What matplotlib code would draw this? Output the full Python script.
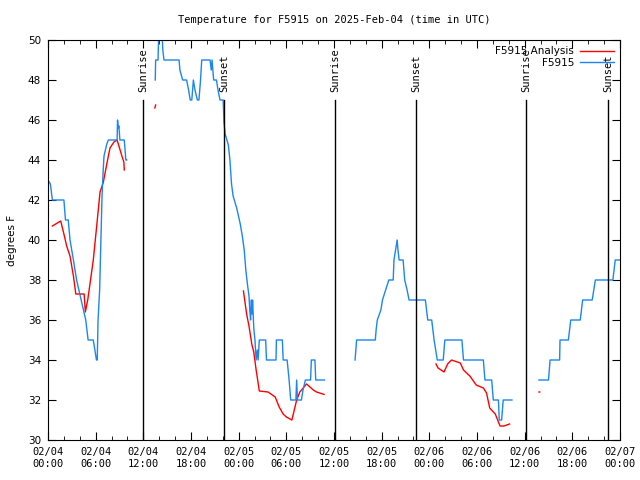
import matplotlib
matplotlib.use("Agg")
import matplotlib.pyplot as plt
import numpy as np

nan = np.nan

# hours since 2025-02-04 00:00 UTC
BLUE_HOURS = [0.0, 0.3, 0.55, 2.0, 2.2, 2.55, 2.77, 3.2, 3.6, 4.0, 4.45, 4.75, 5.05, 5.7, 5.9, 6.1, 6.2,
              6.3, 6.5, 6.63, 6.8, 6.95, 7.05, 7.4, 7.6, 8.7, 8.75, 8.85, 8.92, 9.05, 9.6, 9.8, 9.9, nan,
              13.5, 13.55, 13.85, 13.95, 14.35, 14.45, 14.6, 16.5, 16.6, 16.95, 17.45, 17.7, 17.9, 18.1,
              18.3, 18.5, 18.8, 19.0, 19.2, 19.35, 20.4, 20.55, 20.65, 20.85, 21.2, 21.4, 21.65, 22.05,
              22.15, 22.3, 22.7, 22.9, 23.1, 23.3, 23.75, 24.2, 24.46, 24.7, 24.9, 25.1, 25.3, 25.4, 25.5,
              25.6, 25.7, 25.75, 25.9, 26.05, 26.2, 26.35, 26.45, 26.6, 27.4, 27.5, 28.7, 28.75, 29.5,
              29.6, 30.1, 30.35, 30.55, 31.2, 31.3, 31.4, 31.9, 32.1, 32.4, 33.05, 33.15, 33.6, 33.7,
              34.8, nan,
              38.65, 38.85, 41.2, 41.3, 41.45, 41.9, 42.1, 42.5, 42.9, 43.45, 43.55, 43.75, 43.95, 44.05,
              44.2, 44.7, 44.9, 45.2, 45.45, 47.5, 47.65, 47.8, 48.3, 48.45, 48.6, 48.8, 49.0, 49.75,
              49.95, 52.1, 52.3, 54.8, 55.0, 55.85, 56.05, 56.7, 56.8, 57.1, 57.3, 58.4, nan,
              61.8, 63.0, 63.2, 64.4, 64.45, 65.5, 65.8, 67.0, 67.3, 68.5, 68.9, 71.1, 71.4, 72.0]
BLUE_TEMP = [43.0, 42.8, 42.0, 42.0, 41.0, 41.0, 40.0, 39.0, 38.0, 37.3, 36.5, 36.0, 35.0, 35.0, 34.5, 34.0, 34.0,
             36.0, 37.5, 39.5, 42.2, 43.5, 44.2, 44.8, 45.0, 45.0, 46.0, 45.6, 45.7, 45.0, 45.0, 44.0, 44.0, nan,
             48.0, 49.0, 49.0, 50.5, 50.5, 49.5, 49.0, 49.0, 48.5, 48.0, 48.0, 47.5, 47.0, 47.0,
             48.0, 47.5, 47.0, 47.0, 48.0, 49.0, 49.0, 48.5, 49.0, 48.0, 48.0, 47.5, 47.0, 47.0,
             45.9, 45.3, 44.75, 44.0, 42.8, 42.2, 41.6, 40.8, 40.2, 39.5, 38.5, 37.8, 37.2, 36.5, 36.0,
             37.0, 36.3, 37.0, 35.6, 35.0, 34.0, 34.5, 34.0, 35.0, 35.0, 34.0, 34.0, 35.0, 35.0,
             34.0, 34.0, 33.0, 32.0, 32.0, 33.0, 32.0, 32.0, 32.5, 33.0, 33.0, 34.0, 34.0, 33.0,
             33.0, nan,
             34.0, 35.0, 35.0, 35.5, 36.0, 36.5, 37.0, 37.5, 38.0, 38.0, 39.0, 39.5, 40.0, 39.5,
             39.0, 39.0, 38.0, 37.5, 37.0, 37.0, 36.5, 36.0, 36.0, 35.5, 35.0, 34.5, 34.0, 34.0,
             35.0, 35.0, 34.0, 34.0, 33.0, 33.0, 32.0, 32.0, 31.0, 31.0, 32.0, 32.0, nan,
             33.0, 33.0, 34.0, 34.0, 35.0, 35.0, 36.0, 36.0, 37.0, 37.0, 38.0, 38.0, 39.0, 39.0]

RED_HOURS = [0.55, 1.6, 2.0, 2.35, 2.77, 3.2, 3.5, 4.55, 4.7, 5.0, 5.3, 5.7, 6.13, 6.55, 6.97, 7.4, 7.8,
             8.3, 8.7, 9.3, 9.55, 9.6, nan,
             13.45, 13.55, nan,
             24.6, 25.0, 25.3, 25.65, 25.9, 26.2, 26.6, 27.7, 28.6, 29.1, 29.6, 30.0, 30.7, 31.3, 31.7,
             32.55, 33.4, 33.8, 34.75, nan,
             48.84, 49.1, 49.85, 50.3, 50.8, 51.9, 52.3, 53.1, 53.9, 54.8, 55.2, 55.6, 56.3, 56.9, 57.4,
             58.1, nan,
             61.8, 61.9]
RED_TEMP = [40.7, 40.95, 40.3, 39.7, 39.2, 38.2, 37.3, 37.3, 36.4, 37.0, 37.85, 39.0, 40.7, 42.4, 42.9, 43.8, 44.6,
            44.9, 45.0, 44.2, 43.9, 43.5, nan,
            46.6, 46.75, nan,
            37.45, 36.3, 35.7, 34.8, 34.4, 33.5, 32.45, 32.4, 32.15, 31.65, 31.3, 31.15, 31.0, 32.0, 32.4,
            32.8, 32.5, 32.4, 32.28, nan,
            33.8, 33.6, 33.4, 33.8, 34.0, 33.85, 33.5, 33.2, 32.75, 32.6, 32.35, 31.6, 31.3, 30.7, 30.7,
            30.8, nan,
            32.4, 32.4]

SUN_HOURS = [12.0, 22.15, 36.13, 46.3, 60.2, 70.5]
SUN_LABELS = ["Sunrise", "Sunset", "Sunrise", "Sunset", "Sunrise", "Sunset"]

TICK_HOURS = list(range(0, 73, 6))
TICK_LABELS = ["02/04\n00:00", "02/04\n06:00", "02/04\n12:00", "02/04\n18:00",
               "02/05\n00:00", "02/05\n06:00", "02/05\n12:00", "02/05\n18:00",
               "02/06\n00:00", "02/06\n06:00", "02/06\n12:00", "02/06\n18:00",
               "02/07\n00:00"]

plt.rcParams["font.family"] = ["DejaVu Sans"]
plt.rcParams["font.size"] = 7.5

fig = plt.figure(figsize=(6.4, 4.8), dpi=100)
ax = fig.add_axes([48 / 640, 40 / 480, 572 / 640, 400 / 480])

ax.plot(RED_HOURS, RED_TEMP, color="#ff0000", lw=1.0, label="F5915 Analysis")
ax.plot(BLUE_HOURS, BLUE_TEMP, color="#1c86ee", lw=1.0, label="F5915")

for h, lab in zip(SUN_HOURS, SUN_LABELS):
    ax.plot([h, h], [30, 47.0], color="black", lw=1.0)
    ax.text(h, 47.4, lab, rotation=90, ha="center", va="bottom", fontsize=7.5,
            family="DejaVu Sans Mono")

ax.set_xlim(0, 72)
ax.set_ylim(30, 50)
ax.set_xticks(TICK_HOURS)
ax.set_xticklabels(TICK_LABELS, family="DejaVu Sans Mono")
ax.set_xticks(np.arange(0, 73, 2), minor=True)
ax.set_yticks(np.arange(30, 51, 2))
ax.tick_params(which="both", direction="in", top=True, right=True, pad=5)
ax.tick_params(which="major", length=6)
ax.tick_params(which="minor", length=3)
ax.set_ylabel("degrees F", labelpad=8)
ax.set_title("Temperature for F5915 on 2025-Feb-04 (time in UTC)",
             family="DejaVu Sans Mono", fontsize=7.5, pad=12)

ax.legend(loc="upper right", frameon=False, markerfirst=False, handlelength=3.2,
          borderaxespad=0.2, labelspacing=0.15, handletextpad=0.6)

fig.savefig("out.png", dpi=100)
